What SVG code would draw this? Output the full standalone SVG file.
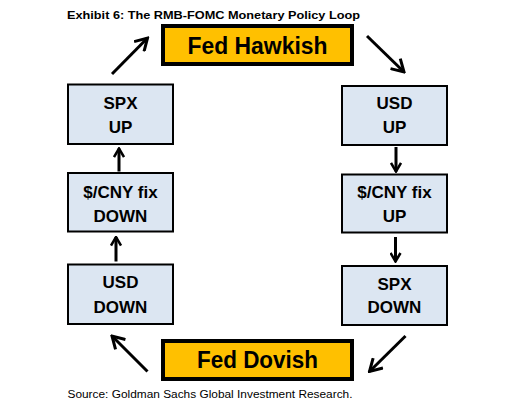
<svg xmlns="http://www.w3.org/2000/svg" width="505" height="411" viewBox="0 0 505 411">
<defs>
<style>
.fed{fill:#FFC000;stroke:#000;stroke-width:4}
.box{fill:#DCE6F2;stroke:#000;stroke-width:2}
.t{font-family:"Liberation Sans",Arial,sans-serif;font-weight:bold;fill:#000;text-anchor:middle}
.big{font-size:24px}
.mid{font-size:17px}
.conn line{stroke:#000;stroke-width:3}
.diag{marker-end:url(#headL)}
.vert{marker-end:url(#headS)}
</style>
<marker id="headL" viewBox="0 0 16 16" refX="14" refY="8" markerWidth="16" markerHeight="16" markerUnits="userSpaceOnUse" orient="auto">
<path d="M2,1 L14,8 L2,15" fill="none" stroke="#000" stroke-width="3"/>
</marker>
<marker id="headS" viewBox="0 0 12 12" refX="10.5" refY="6" markerWidth="12" markerHeight="12" markerUnits="userSpaceOnUse" orient="auto">
<path d="M2,1 L10.5,6 L2,11" fill="none" stroke="#000" stroke-width="2.5"/>
</marker>
</defs>
<rect width="505" height="411" fill="#fff"/>
<text x="67" y="18.5" font-family="Liberation Sans,Arial,sans-serif" font-weight="bold" font-size="11.5" textLength="293" lengthAdjust="spacingAndGlyphs" fill="#000">Exhibit 6: The RMB-FOMC Monetary Policy Loop</text>
<g id="fed-hawkish">
<rect class="fed" x="163" y="26" width="189" height="38"/>
<text class="t big" x="257.5" y="54" textLength="140" lengthAdjust="spacingAndGlyphs">Fed Hawkish</text>
</g>
<g id="usd-up">
<rect class="box" x="342" y="86" width="105" height="59"/>
<text class="t mid" x="394.5" y="109">USD</text>
<text class="t mid" x="394.5" y="132.5">UP</text>
</g>
<g id="cny-up">
<rect class="box" x="342" y="174.5" width="105" height="58"/>
<text class="t mid" x="394.5" y="198.3">$/CNY fix</text>
<text class="t mid" x="394.5" y="221.7">UP</text>
</g>
<g id="spx-down">
<rect class="box" x="342" y="266" width="105" height="59"/>
<text class="t mid" x="394.5" y="290">SPX</text>
<text class="t mid" x="394.5" y="313.3">DOWN</text>
</g>
<g id="fed-dovish">
<rect class="fed" x="163" y="341" width="189" height="38"/>
<text class="t big" x="257.5" y="368.3" textLength="121" lengthAdjust="spacingAndGlyphs">Fed Dovish</text>
</g>
<g id="usd-down">
<rect class="box" x="68" y="264.5" width="105" height="59.5"/>
<text class="t mid" x="120.5" y="288.3">USD</text>
<text class="t mid" x="120.5" y="312.7">DOWN</text>
</g>
<g id="cny-down">
<rect class="box" x="68" y="173" width="105" height="58.5"/>
<text class="t mid" x="120.5" y="197.7">$/CNY fix</text>
<text class="t mid" x="120.5" y="221.7">DOWN</text>
</g>
<g id="spx-up">
<rect class="box" x="68" y="84.5" width="105" height="59.5"/>
<text class="t mid" x="120.5" y="109.3">SPX</text>
<text class="t mid" x="120.5" y="132.7">UP</text>
</g>
<g id="connectors" class="conn">
<line class="diag" x1="112" y1="74" x2="147.5" y2="38"/>
<line class="diag" x1="367" y1="36" x2="404" y2="72"/>
<line class="vert" x1="396" y1="147" x2="396" y2="171.5"/>
<line class="vert" x1="395.5" y1="237" x2="395.5" y2="261.5"/>
<line class="diag" x1="405.5" y1="336" x2="369.5" y2="371.5"/>
<line class="diag" x1="147.5" y1="371.5" x2="112" y2="336"/>
<line class="vert" x1="116" y1="261.5" x2="116" y2="237"/>
<line class="vert" x1="119" y1="171.5" x2="119" y2="148.5"/>
</g>
<text x="67.5" y="398.3" font-family="Liberation Sans,Arial,sans-serif" font-size="10" textLength="285" lengthAdjust="spacingAndGlyphs" fill="#000">Source: Goldman Sachs Global Investment Research.</text>
</svg>
